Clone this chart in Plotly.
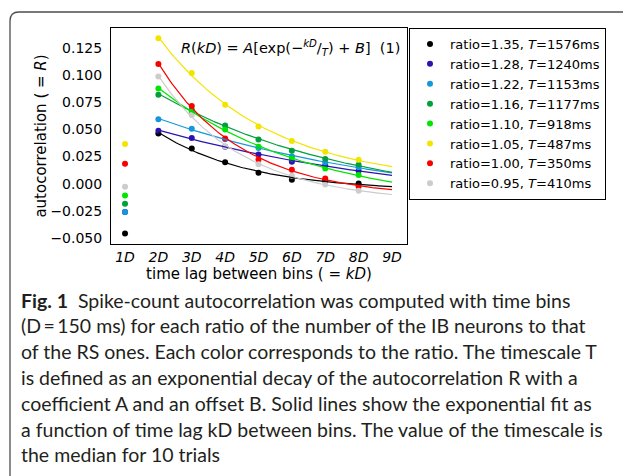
import numpy as np
import plotly.graph_objects as go

# ---------------- data ----------------
lags = [1, 2, 3, 4, 5, 6, 7, 8]
tick_vals = [1, 2, 3, 4, 5, 6, 7, 8, 9]
tick_text = ["1D", "2D", "3D", "4D", "5D", "6D", "7D", "8D", "9D"]
y_tick_vals = [-0.050, -0.025, 0.000, 0.025, 0.050, 0.075, 0.100, 0.125]
y_tick_text = ["\u22120.050", "\u22120.025", "0.000", "0.025", "0.050", "0.075", "0.100", "0.125"]

ratios = ["1.35", "1.28", "1.22", "1.16", "1.10", "1.05", "1.00", "0.95"]
timescales_ms = [1576, 1240, 1153, 1177, 918, 487, 350, 410]
colors = ["#000000", "#2a14b0", "#1596de", "#00a03a", "#00e600", "#f3e400", "#fa0000", "#cccccc"]

r_135 = [-0.0457, 0.0463, 0.0325, 0.0199, 0.0101, 0.0037, 0.0028, 0.0003]
r_128 = [-0.0260, 0.0487, 0.0420, 0.0340, 0.0270, 0.0202, 0.0168, 0.0120]
r_122 = [-0.0260, 0.0594, 0.0505, 0.0410, 0.0328, 0.0251, 0.0196, 0.0153]
r_116 = [-0.0184, 0.0818, 0.0680, 0.0536, 0.0407, 0.0303, 0.0227, 0.0175]
r_110 = [-0.0107, 0.0876, 0.0665, 0.0499, 0.0340, 0.0233, 0.0141, 0.0080]
r_105 = [0.0365, 0.1336, 0.1017, 0.0726, 0.0527, 0.0392, 0.0294, 0.0220]
r_100 = [0.0184, 0.1100, 0.0714, 0.0417, 0.0223, 0.0129, 0.0049, -0.0025]
r_095 = [-0.0028, 0.0986, 0.0631, 0.0343, 0.0180, 0.0074, -0.0006, -0.0064]
series = [r_135, r_128, r_122, r_116, r_110, r_105, r_100, r_095]

bin_ms = 150.0

caption_lines = [
    "<b>Fig. 1</b>  Spike-count autocorrelation was computed with time bins",
    "(D\u2009=\u2009150 ms) for each ratio of the number of the IB neurons to that",
    "of the RS ones. Each color corresponds to the ratio. The timescale T",
    "is defined as an exponential decay of the autocorrelation R with a",
    "coefficient A and an offset B. Solid lines show the exponential fit as",
    "a function of time lag kD between bins. The value of the timescale is",
    "the median for 10 trials",
]


def exp_fit(k, r):
    """Least-squares fit r = a*exp(-k*D/T) + c (grid over T, linear in a, c)."""
    k = np.asarray(k, float)
    r = np.asarray(r, float)
    best = None
    for T in np.linspace(50, 6000, 3000):
        e = np.exp(-k * bin_ms / T)
        M = np.vstack([e, np.ones_like(e)]).T
        coef, *_ = np.linalg.lstsq(M, r, rcond=None)
        sse = float(((M @ coef - r) ** 2).sum())
        if best is None or sse < best[0]:
            best = (sse, T, coef)
    return best[1], best[2]


# ---------------- figure ----------------
W, H = 623, 476
L, R, T_, B = 111, 407, 28, 244
pw, ph = R - L, B - T_

fig = go.Figure()
font_main = "DejaVu Sans"

for name, tau, col, vals in zip(ratios, timescales_ms, colors, series):
    fig.add_trace(go.Scatter(
        x=lags, y=vals, mode="markers",
        marker=dict(color=col, size=6, line=dict(width=0)),
        name=f"ratio={name}, <i>T</i>={tau}ms",
        showlegend=True,
    ))

for name, col, vals in zip(ratios, colors, series):
    kfit = lags[1:]
    rfit = vals[1:]
    Tbest, coef = exp_fit(kfit, rfit)
    xx = np.linspace(kfit[0], 9, 120)
    yy = coef[0] * np.exp(-xx * bin_ms / Tbest) + coef[1]
    fig.add_trace(go.Scatter(
        x=xx, y=yy, mode="lines",
        line=dict(color=col, width=1.2),
        showlegend=False, hoverinfo="skip",
    ))

fig.update_layout(
    width=W, height=H,
    margin=dict(l=L, r=W - R, t=T_, b=H - B, pad=0, autoexpand=False),
    paper_bgcolor="white", plot_bgcolor="white",
    font=dict(family=font_main, size=14, color="black"),
    showlegend=True,
    legend=dict(
        xref="container", yref="container",
        x=409 / W, xanchor="left", y=1 - 28 / H, yanchor="top",
        bordercolor="black", borderwidth=1, bgcolor="white",
        font=dict(family=font_main, size=13, color="black"),
        tracegroupgap=0,
    ),
)

fig.update_xaxes(
    range=[0.58, 9.45], tickmode="array", tickvals=tick_vals,
    ticktext=[f"<i>{t}</i>" for t in tick_text],
    showline=True, linecolor="black", linewidth=1, mirror=True,
    showgrid=False, zeroline=False, ticks="", ticklabelstandoff=0,
    tickfont=dict(family=font_main, size=14, color="black"),
    automargin=False,
    title=dict(text="time lag between bins ( = <i>kD</i>)",
               font=dict(family=font_main, size=15, color="black"), standoff=0),
)
fig.update_yaxes(
    range=[-0.0553, 0.1431], tickmode="array", tickvals=y_tick_vals, ticktext=y_tick_text,
    showline=True, linecolor="black", linewidth=1, mirror=True,
    showgrid=False, zeroline=False, ticks="", ticklabelstandoff=5,
    tickfont=dict(family=font_main, size=14, color="black"),
    automargin=False,
    title=dict(text="autocorrelation ( = <i>R</i>)",
               font=dict(family=font_main, size=15, color="black"), standoff=0),
)

# equation annotation inside the axes
fig.add_annotation(
    xref="paper", yref="paper", x=(402 - L) / pw, y=(B - 48) / ph,
    xanchor="right", yanchor="middle", showarrow=False,
    text="<i>R</i>(<i>kD</i>) = <i>A</i>[exp(\u2212<sup><i>kD</i></sup>/<sub><i>T</i></sub>) + <i>B</i>]  (1)",
    font=dict(family=font_main, size=14.5, color="black"),
)

# caption
cap_y0, cap_dy = 300, 25.8
for i, line in enumerate(caption_lines):
    py = cap_y0 + i * cap_dy
    fig.add_annotation(
        xref="paper", yref="paper", x=(19 - L) / pw, y=(B - py) / ph,
        xanchor="left", yanchor="middle", showarrow=False, align="left",
        text=line, font=dict(family="Lato", size=19.5, color="#231f20"),
    )


# outer rounded frame
def px(xp):
    return (xp - L) / pw


def py_(yp):
    return (B - yp) / ph


path = (f"M {px(10)} {py_(490)} L {px(10)} {py_(21)} "
        f"Q {px(10)} {py_(12)} {px(19)} {py_(12)} L {px(640)} {py_(12)}")
fig.add_shape(type="path", xref="paper", yref="paper", path=path,
              line=dict(color="#4d4d4d", width=1.3), layer="above")

fig.write_html(
    "out.html",
    config={"displayModeBar": False},
    post_script="document.body.style.margin='0px';document.body.style.padding='0px';",
)
